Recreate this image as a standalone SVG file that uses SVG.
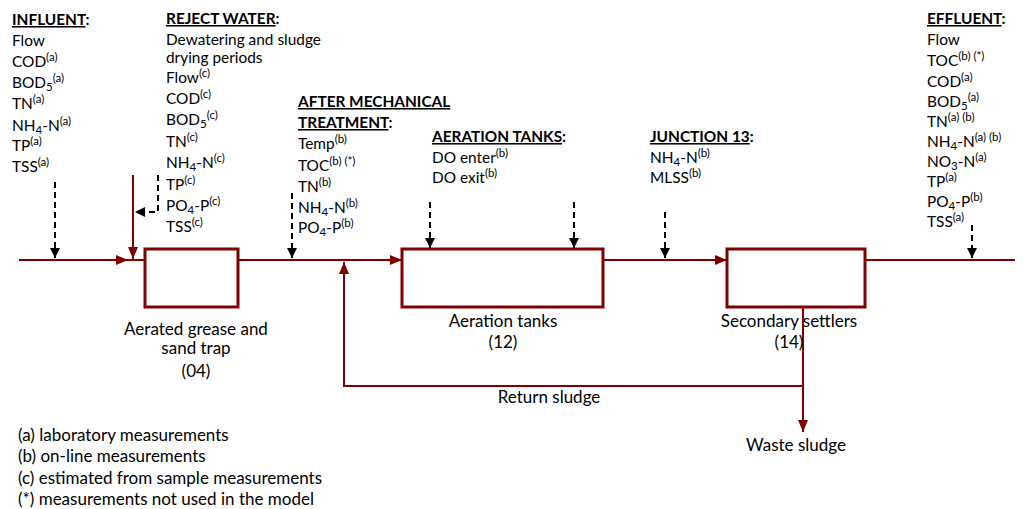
<svg xmlns="http://www.w3.org/2000/svg" width="1023" height="509" viewBox="0 0 1023 509">
<style>
text{font-family:Lato,"Liberation Sans",sans-serif;font-size:15.4px;fill:#000}
.h{font-weight:bold}
.u{text-decoration:underline}
.s{font-size:11.5px}
.c{text-anchor:middle}
.l{font-size:17px}
.box{fill:#fff;stroke:#800000;stroke-width:3}
.flow{fill:none;stroke:#800000;stroke-width:2}
.arr{marker-end:url(#ar)}
.dash{fill:none;stroke:#000;stroke-width:2;stroke-dasharray:6,4;marker-end:url(#ab)}
</style>
<defs>
<marker id="ab" markerWidth="10" markerHeight="10" refX="10" refY="5" orient="auto" markerUnits="userSpaceOnUse"><path d="M0,0 L10,5 L0,10 z" fill="#000"/></marker>
<marker id="ar" markerWidth="12" markerHeight="10" refX="12" refY="5" orient="auto" markerUnits="userSpaceOnUse"><path d="M0,0 L12,5 L0,10 z" fill="#800000"/></marker>
</defs>

<g id="connectors">
<line class="flow arr" x1="19" y1="260" x2="128" y2="260"/>
<line class="flow" x1="128" y1="260" x2="145" y2="260"/>
<line class="flow arr" x1="133" y1="175" x2="133" y2="259"/>
<line class="flow arr" x1="238" y1="260" x2="402" y2="260"/>
<line class="flow arr" x1="603" y1="260" x2="727" y2="260"/>
<line class="flow" x1="865" y1="260" x2="1015" y2="260"/>
<polyline class="flow arr" points="803,307 803,386 344,386 344,262"/>
<line class="flow arr" x1="803" y1="386" x2="803" y2="432"/>
<line class="dash" x1="55" y1="182" x2="55" y2="258"/>
<polyline class="dash" points="158,175 158,212 135,212"/>
<line class="dash" x1="292" y1="193" x2="292" y2="258"/>
<line class="dash" x1="430" y1="202" x2="430" y2="248"/>
<line class="dash" x1="574" y1="202" x2="574" y2="248"/>
<line class="dash" x1="665" y1="212" x2="665" y2="258"/>
<line class="dash" x1="972" y1="225" x2="972" y2="258"/>
</g>

<g id="grease-trap">
<rect class="box" x="145" y="249" width="93" height="58"/>
<text class="c l" x="196" y="335">Aerated grease and</text>
<text class="c l" x="196" y="354">sand trap</text>
<text class="c l" x="196" y="377">(04)</text>
</g>

<g id="aeration-tanks">
<rect class="box" x="402" y="249" width="201" height="58"/>
<text class="c l" x="503" y="327">Aeration tanks</text>
<text class="c l" x="503" y="348">(12)</text>
</g>

<g id="secondary-settlers">
<rect class="box" x="727" y="249" width="138" height="58"/>
<text class="c l" x="789" y="327">Secondary settlers</text>
<text class="c l" x="789" y="348">(14)</text>
</g>

<g id="return-sludge"><text class="c l" x="549" y="403">Return sludge</text></g>
<g id="waste-sludge"><text class="c l" x="796" y="451">Waste sludge</text></g>

<g id="influent">
<text class="h" x="12" y="25"><tspan class="u">INFLUENT</tspan>:</text>
<text x="12" y="46">Flow</text>
<text x="12" y="67">COD<tspan class="s" dy="-6">(a)</tspan></text>
<text x="12" y="88">BOD<tspan class="s" dy="3">5</tspan><tspan class="s" dy="-9">(a)</tspan></text>
<text x="12" y="109">TN<tspan class="s" dy="-6">(a)</tspan></text>
<text x="12" y="131">NH<tspan class="s" dy="3">4</tspan><tspan dy="-3">-N</tspan><tspan class="s" dy="-6">(a)</tspan></text>
<text x="12" y="151">TP<tspan class="s" dy="-6">(a)</tspan></text>
<text x="12" y="172">TSS<tspan class="s" dy="-6">(a)</tspan></text>
</g>

<g id="reject-water">
<text class="h" x="166" y="24"><tspan class="u">REJECT WATER</tspan>:</text>
<text x="166" y="45">Dewatering and sludge</text>
<text x="166" y="63">drying periods</text>
<text x="166" y="83">Flow<tspan class="s" dy="-6">(c)</tspan></text>
<text x="166" y="104">COD<tspan class="s" dy="-6">(c)</tspan></text>
<text x="166" y="125">BOD<tspan class="s" dy="3">5</tspan><tspan class="s" dy="-9">(c)</tspan></text>
<text x="166" y="147">TN<tspan class="s" dy="-6">(c)</tspan></text>
<text x="166" y="168">NH<tspan class="s" dy="3">4</tspan><tspan dy="-3">-N</tspan><tspan class="s" dy="-6">(c)</tspan></text>
<text x="166" y="190">TP<tspan class="s" dy="-6">(c)</tspan></text>
<text x="166" y="211">PO<tspan class="s" dy="3">4</tspan><tspan dy="-3">-P</tspan><tspan class="s" dy="-6">(c)</tspan></text>
<text x="166" y="232">TSS<tspan class="s" dy="-6">(c)</tspan></text>
</g>

<g id="after-mechanical">
<text class="h" x="298" y="107"><tspan class="u">AFTER MECHANICAL</tspan></text>
<text class="h" x="298" y="128"><tspan class="u">TREATMENT</tspan>:</text>
<text x="298" y="149">Temp<tspan class="s" dy="-6">(b)</tspan></text>
<text x="298" y="171">TOC<tspan class="s" dy="-6">(b) (*)</tspan></text>
<text x="298" y="192">TN<tspan class="s" dy="-6">(b)</tspan></text>
<text x="298" y="213">NH<tspan class="s" dy="3">4</tspan><tspan dy="-3">-N</tspan><tspan class="s" dy="-6">(b)</tspan></text>
<text x="298" y="233">PO<tspan class="s" dy="3">4</tspan><tspan dy="-3">-P</tspan><tspan class="s" dy="-6">(b)</tspan></text>
</g>

<g id="aeration-meas">
<text class="h" x="432" y="142"><tspan class="u">AERATION TANKS</tspan>:</text>
<text x="432" y="163">DO enter<tspan class="s" dy="-6">(b)</tspan></text>
<text x="432" y="183">DO exit<tspan class="s" dy="-6">(b)</tspan></text>
</g>

<g id="junction-13">
<text class="h" x="650" y="142"><tspan class="u">JUNCTION 13</tspan>:</text>
<text x="650" y="163">NH<tspan class="s" dy="3">4</tspan><tspan dy="-3">-N</tspan><tspan class="s" dy="-6">(b)</tspan></text>
<text x="650" y="183">MLSS<tspan class="s" dy="-6">(b)</tspan></text>
</g>

<g id="effluent">
<text class="h" x="927" y="24"><tspan class="u">EFFLUENT</tspan>:</text>
<text x="927" y="45">Flow</text>
<text x="927" y="66">TOC<tspan class="s" dy="-6">(b) (*)</tspan></text>
<text x="927" y="87">COD<tspan class="s" dy="-6">(a)</tspan></text>
<text x="927" y="107">BOD<tspan class="s" dy="3">5</tspan><tspan class="s" dy="-9">(a)</tspan></text>
<text x="927" y="127">TN<tspan class="s" dy="-6">(a) (b)</tspan></text>
<text x="927" y="147">NH<tspan class="s" dy="3">4</tspan><tspan dy="-3">-N</tspan><tspan class="s" dy="-6">(a) (b)</tspan></text>
<text x="927" y="167">NO<tspan class="s" dy="3">3</tspan><tspan dy="-3">-N</tspan><tspan class="s" dy="-6">(a)</tspan></text>
<text x="927" y="187">TP<tspan class="s" dy="-6">(a)</tspan></text>
<text x="927" y="207">PO<tspan class="s" dy="3">4</tspan><tspan dy="-3">-P</tspan><tspan class="s" dy="-6">(b)</tspan></text>
<text x="927" y="227">TSS<tspan class="s" dy="-6">(a)</tspan></text>
</g>

<g id="legend">
<text class="l" x="18" y="441">(a) laboratory measurements</text>
<text class="l" x="18" y="462">(b) on-line measurements</text>
<text class="l" x="18" y="484">(c) estimated from sample measurements</text>
<text class="l" x="18" y="505">(*) measurements not used in the model</text>
</g>
</svg>
